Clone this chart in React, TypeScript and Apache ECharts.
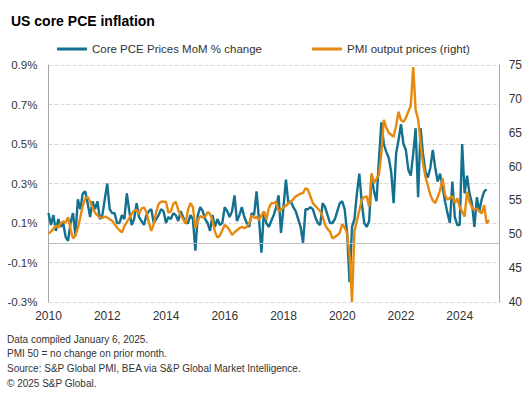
import React, { useEffect, useRef } from "react";
import * as echarts from "echarts";

const FONT = 'Arial, "Liberation Sans", Helvetica, sans-serif';
const START_YEAR = 2010;

// Core PCE prices, month-on-month % change (monthly from Jan 2010)
const corePce: number[] = [
  0.15, 0.09, 0.14, 0.06, 0.12, 0.08, 0.1, 0.03, 0.01, 0.1, 0.15, 0.04,
  0.22, 0.17, 0.25, 0.26, 0.2, 0.13, 0.21, 0.17, 0.21, 0.12, 0.14, 0.22,
  0.3, 0.17, 0.15, 0.15, 0.1, 0.1, 0.14, 0.12, 0.25, 0.16, 0.09, 0.12,
  0.2, 0.13, 0.11, 0.09, 0.14, 0.16, 0.17, 0.1, 0.12, 0.14, 0.17, 0.16,
  0.1, 0.13, 0.12, 0.15, 0.14, 0.11, 0.16, 0.13, 0.1, 0.1, 0.14, 0.12,
  -0.04, 0.14, 0.18, 0.16, 0.12, 0.1, 0.06, 0.14, 0.08, 0.12, 0.09, 0.1,
  0.18, 0.16, 0.13, 0.16, 0.24, 0.11, 0.14, 0.18, 0.13, 0.1, 0.08, 0.15,
  0.14, 0.26, 0.12, -0.05, 0.16, 0.1, 0.08, 0.11, 0.14, 0.18, 0.24, 0.05,
  0.18, 0.32, 0.2, 0.21, 0.18, 0.16, 0.12, 0.08, 0.0, 0.17, 0.17, 0.18,
  0.17, 0.13, 0.1, 0.09, 0.2, 0.18, 0.14, 0.1, 0.1, 0.12, 0.16, 0.2,
  0.21, 0.17, 0.05, -0.2, 0.08, 0.12, 0.25, 0.35, 0.2, 0.1, 0.08, 0.11,
  0.34, 0.26, 0.21, 0.42, 0.61, 0.5, 0.46, 0.43, 0.36, 0.2, 0.45, 0.52,
  0.6, 0.5, 0.47, 0.37, 0.34, 0.45, 0.58, 0.23, 0.58, 0.45, 0.36, 0.33,
  0.38, 0.47, 0.38, 0.31, 0.35, 0.28, 0.21, 0.15, 0.1, 0.31, 0.13, 0.09,
  0.09, 0.5, 0.25, 0.34, 0.25, 0.2, 0.08, 0.23, 0.16, 0.22, 0.26, 0.27,
];

// PMI output prices index (right axis)
const pmiOutputPrices: number[] = [
  50.1, 50.4, 50.8, 51.3, 51.0, 51.6, 51.9, 51.7, 52.5, 50.8, 49.4, 49.8,
  50.9, 52.5, 54.2, 55.3, 55.5, 54.8, 54.0, 53.2, 52.8, 52.5, 52.4, 52.6,
  52.5, 52.2, 52.0, 51.5, 51.0, 50.6, 50.3, 51.2, 51.8, 52.4, 53.0, 53.5,
  53.6, 53.0, 53.8, 54.0, 53.3, 51.8, 50.5, 51.5, 53.3, 54.5, 54.8, 54.8,
  54.8, 53.2, 53.4, 54.5, 54.8, 53.6, 52.8, 52.2, 51.6, 53.6, 54.6, 54.0,
  51.0, 52.0, 52.7, 52.5, 52.6, 53.3, 53.0, 52.0, 50.4, 49.5, 49.8, 50.6,
  51.4, 51.1, 50.6, 49.9, 50.3, 50.6, 50.9, 51.1, 50.9, 51.1, 51.6, 52.8,
  52.4, 52.6, 52.1, 52.8, 53.4, 52.2, 53.8, 54.6, 54.6, 54.8, 53.4, 53.6,
  54.0, 54.2, 54.6, 54.8, 55.2, 55.6, 55.8, 56.0, 56.1, 56.8, 56.6, 55.6,
  54.6, 54.2, 53.8, 53.4, 52.6, 51.4, 50.8, 50.4, 49.4, 49.6, 49.9, 50.2,
  51.5, 51.0, 50.2, 47.0, 40.0, 50.5, 52.0, 53.6, 55.1, 55.5, 55.6, 54.1,
  59.0, 57.6, 58.2, 58.8, 62.0, 66.9, 65.8, 65.0, 64.7, 64.4, 66.0, 68.1,
  66.9, 66.6, 67.2, 68.1, 69.0, 74.7, 68.4, 67.0, 63.5, 60.5, 58.5, 57.2,
  55.8, 55.0, 54.6, 55.5, 56.5, 58.3, 55.8, 55.1, 55.4, 55.6, 54.6, 55.3,
  54.0, 53.4, 52.6, 56.3, 54.8, 54.0, 53.6, 53.8, 53.4, 53.1, 54.3, 51.6,
  52.1,
];

const seriesNames = ["Core PCE Prices MoM % change", "PMI output prices (right)"];
const footnotes = [
  "Data compiled January 6, 2025.",
  "PMI 50 = no change on prior month.",
  "Source: S&P Global PMI, BEA via S&P Global Market Intelligence.",
  "\u00A9 2025 S&P Global.",
];

const TEAL = "#13708f";
const ORANGE = "#e8890f";

const toPoints = (vals: number[]) => vals.map((v, i) => [START_YEAR + i / 12, v]);

export default function App() {
  const ref = useRef<HTMLDivElement>(null);
  useEffect(() => {
    if (!ref.current) return;
    const chart = echarts.init(ref.current, undefined, { renderer: "svg" });
    chart.setOption({
      animation: false,
      backgroundColor: "#fff",
      title: {
        text: "US core PCE inflation",
        left: 6,
        top: 9,
        textStyle: { fontSize: 14, fontWeight: "bold", color: "#000", fontFamily: FONT },
      },
      legend: {
        top: 38,
        left: 52,
        itemGap: 50,
        itemWidth: 30,
        itemHeight: 3,
        icon: "rect",
        textStyle: { fontSize: 11.5, color: "#333", fontFamily: FONT },
        data: seriesNames,
      },
      grid: { left: 48.5, right: 24.5, top: 65, bottom: 94 },
      xAxis: {
        type: "value",
        min: 2010,
        max: 2025.36,
        interval: 2,
        axisLine: { show: false },
        axisTick: { show: false },
        splitLine: { show: false },
        axisLabel: {
          margin: 8,
          fontSize: 12,
          color: "#333",
          fontFamily: FONT,
          showMaxLabel: false,
          formatter: (v: number) => String(Math.round(v)),
        },
      },
      yAxis: [
        {
          type: "value",
          min: -0.3,
          max: 0.9,
          interval: 0.2,
          axisLine: { show: true, lineStyle: { color: "#a6a6a6", width: 1 } },
          axisTick: { show: false },
          splitLine: { show: true, lineStyle: { color: "#d9d9d9", type: "dashed", width: 1 } },
          axisLabel: {
            margin: 11,
            fontSize: 11.5,
            color: "#333",
            fontFamily: FONT,
            formatter: (v: number) => v.toFixed(1) + "%",
          },
        },
        {
          type: "value",
          position: "right",
          min: 40,
          max: 75,
          interval: 5,
          axisLine: { show: true, lineStyle: { color: "#a6a6a6", width: 1 } },
          axisTick: { show: false },
          splitLine: { show: false },
          axisLabel: { margin: 9, fontSize: 12, color: "#333", fontFamily: FONT },
        },
      ],
      series: [
        {
          name: seriesNames[0],
          type: "line",
          yAxisIndex: 0,
          data: toPoints(corePce),
          showSymbol: false,
          lineStyle: { color: TEAL, width: 2.4 },
          itemStyle: { color: TEAL },
          markLine: {
            silent: true,
            symbol: "none",
            label: { show: false },
            lineStyle: { color: "#bcbcbc", width: 1, type: "solid" },
            data: [{ yAxis: 0 }],
          },
        },
        {
          name: seriesNames[1],
          type: "line",
          yAxisIndex: 1,
          data: toPoints(pmiOutputPrices),
          showSymbol: false,
          lineStyle: { color: ORANGE, width: 2.4 },
          itemStyle: { color: ORANGE },
        },
      ],
      graphic: footnotes.map((t, i) => ({
        type: "text",
        x: 7,
        y: 339 + i * 14.7,
        style: {
          text: t,
          fill: "#333",
          font: `10px ${FONT}`,
          verticalAlign: "middle",
        },
      })),
    });
    return () => chart.dispose();
  }, []);
  return (
    <div
      ref={ref}
      style={{ position: "absolute", left: 0, top: 0, width: 525, height: 396 }}
    />
  );
}
